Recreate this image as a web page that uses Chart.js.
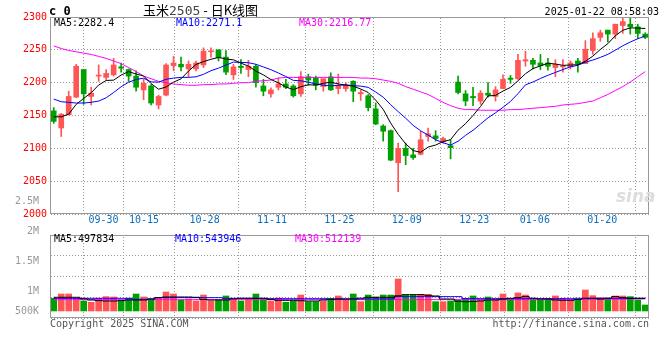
<!DOCTYPE html>
<html>
<head>
<meta charset="utf-8">
<title>玉米2505 - 日K线图</title>
<script src="https://cdn.jsdelivr.net/npm/chart.js@4.4.1/dist/chart.umd.min.js"></script>
<style>
  body { margin: 0; background: #fff; }
  #box { position: relative; width: 660px; height: 360px; overflow: hidden; font: 10px "DejaVu Sans Mono", monospace; }
  #box canvas { position: absolute; left: 0; top: 0; }
  .txt { position: absolute; white-space: nowrap; line-height: 12px; }
</style>
</head>
<body>
<div id="box">
  <canvas id="kline" width="660" height="360"></canvas>
  <canvas id="vol" width="660" height="360"></canvas>
  <div class="txt" style="left:49px;top:5px;font-weight:bold;font-size:12px;">c 0</div>
  <div class="txt" style="left:143px;top:2px;font:13px 'Noto Sans CJK SC',sans-serif;line-height:16px;">玉米<span style="color:#444;font-family:'DejaVu Sans Mono'">2505</span> - 日K线图</div>
  <div class="txt" style="right:1px;top:6px;">2025-01-22 08:58:03</div>
  <div class="txt" style="left:54px;top:17px;">MA5:2282.4</div>
  <div class="txt" style="left:176px;top:17px;color:#0000ff;">MA10:2271.1</div>
  <div class="txt" style="left:299px;top:17px;color:#ff00ff;">MA30:2216.77</div>
  <div class="txt" style="left:54px;top:233px;">MA5:497834</div>
  <div class="txt" style="left:175px;top:233px;color:#0000ff;">MA10:543946</div>
  <div class="txt" style="left:295px;top:233px;color:#ff00ff;">MA30:512139</div>
  <div class="txt" style="left:50px;top:318px;color:#555;">Copyright 2025 SINA.COM</div>
  <div class="txt" style="right:11px;top:318px;color:#555;">http://finance.sina.com.cn</div>
  <div class="txt" style="left:616px;top:186px;font:italic bold 17px 'DejaVu Sans',sans-serif;color:#ddd;">sina</div>
</div>
<script>
const dates = ['09-25','09-26','09-27','09-30',
  '10-08','10-09','10-10','10-11','10-14','10-15','10-16','10-17','10-18','10-21','10-22','10-23','10-24','10-25','10-28','10-29','10-30','10-31',
  '11-01','11-04','11-05','11-06','11-07','11-08','11-11','11-12','11-13','11-14','11-15','11-18','11-19','11-20','11-21','11-22','11-25','11-26','11-27','11-28','11-29',
  '12-02','12-03','12-04','12-05','12-06','12-09','12-10','12-11','12-12','12-13','12-16','12-17','12-18','12-19','12-20','12-23','12-24','12-25','12-26','12-27','12-30','12-31',
  '01-02','01-03','01-06','01-07','01-08','01-09','01-10','01-13','01-14','01-15','01-16','01-17','01-20','01-21','01-22'];

const open = [2157,2131,2151,2178,2220,2179,2210,2208,2212,2224,
  2220,2210,2189,2195,2166,2181,2226,2228,2221,2221,
  2227,2247,2250,2239,2212,2225,2220,2225,2195,2183,
  2193,2198,2195,2183,2209,2207,2194,2209,2191,2191,
  2202,2183,2180,2160,2134,2127,2078,2100,2090,2091,
  2118,2119,2110,2104,2201,2183,2179,2172,2184,2179,
  2191,2207,2206,2233,2234,2230,2230,2223,2224,2224,
  2233,2229,2249,2269,2280,2274,2287,2289,2285,2274];
const high = [2162,2153,2187,2228,2220,2193,2227,2220,2237,2230,
  2221,2218,2205,2197,2181,2229,2240,2239,2233,2233,
  2253,2253,2250,2249,2228,2235,2234,2228,2205,2192,
  2207,2205,2197,2217,2213,2210,2206,2215,2213,2200,
  2203,2189,2182,2169,2136,2128,2108,2108,2100,2126,
  2131,2127,2117,2113,2210,2188,2193,2188,2200,2194,
  2212,2211,2243,2248,2237,2243,2237,2235,2235,2233,
  2237,2264,2276,2280,2280,2289,2298,2298,2289,2276];
const low = [2138,2118,2151,2177,2167,2166,2202,2205,2210,2216,
  2202,2187,2174,2166,2160,2180,2218,2218,2209,2218,
  2223,2239,2233,2212,2205,2214,2209,2193,2180,2178,
  2189,2191,2178,2179,2196,2189,2187,2188,2183,2187,
  2171,2173,2157,2136,2111,2081,2034,2075,2083,2090,
  2111,2111,2108,2084,2183,2165,2165,2167,2178,2172,
  2191,2199,2205,2225,2221,2220,2219,2209,2216,2221,
  2216,2229,2243,2263,2262,2267,2275,2274,2267,2267];
const close = [2141,2152,2179,2225,2183,2184,2211,2214,2227,2222,
  2210,2193,2199,2169,2179,2227,2230,2224,2228,2230,
  2248,2248,2238,2216,2224,2223,2225,2200,2187,2189,
  2198,2193,2180,2209,2204,2196,2206,2189,2195,2196,
  2187,2185,2162,2137,2126,2082,2100,2089,2086,2113,
  2122,2115,2115,2101,2185,2172,2177,2184,2181,2189,
  2205,2205,2234,2235,2228,2226,2225,2228,2225,2230,
  2229,2251,2267,2276,2274,2289,2293,2285,2275,2269];

const ma5 = [2148,2148,2152,2167,2176.0,2184.6,2196.4,2203.4,2203.8,2211.6,
  2216.8,2213.2,2210.2,2198.6,2190.0,2193.4,2200.8,2205.8,2217.6,2227.8,
  2232.0,2235.6,2238.4,2236.0,2234.8,2229.8,2225.2,2217.6,2211.8,2204.8,
  2199.8,2193.4,2189.4,2193.8,2196.8,2196.4,2199.0,2200.8,2198.0,2196.4,
  2194.6,2190.4,2185.0,2173.4,2159.4,2138.4,2121.4,2106.8,2096.6,2094.0,
  2102.0,2105.0,2110.2,2113.2,2127.6,2137.6,2150.0,2163.8,2179.8,2180.6,
  2187.2,2192.8,2202.8,2213.6,2221.4,2225.6,2229.6,2228.4,2226.4,2226.8,
  2227.4,2232.6,2240.4,2250.6,2259.4,2271.4,2279.8,2283.4,2283.2,2282.4];
const ma10 = [2175,2171,2170,2169,2169,2170,2172,2177,2185,2193.8,
  2200.7,2204.8,2206.8,2201.2,2200.8,2205.1,2207.0,2208.0,2208.1,2208.9,
  2212.7,2218.2,2222.1,2226.8,2231.3,2230.9,2230.4,2228.0,2223.9,2219.8,
  2214.8,2209.3,2203.5,2202.8,2200.8,2198.1,2196.2,2195.1,2195.9,2196.6,
  2195.5,2194.7,2192.9,2185.7,2177.9,2166.5,2155.9,2145.9,2135.0,2126.7,
  2120.2,2113.2,2108.5,2104.9,2110.8,2119.8,2127.5,2137.0,2146.5,2154.1,
  2162.4,2171.4,2183.3,2196.7,2201.0,2206.4,2211.2,2215.6,2220.0,2224.1,
  2226.5,2231.1,2234.4,2238.5,2243.1,2249.4,2256.2,2261.9,2266.9,2271.1];
const ma30 = [2256,2252,2249,2247,2245,2243,2240,2237,2233,2229,
  2223,2217,2210,2206,2202,2200,2198,2197,2196,2196,
  2197,2197,2198,2198,2199,2200,2200,2202,2203,2204,
  2207,2208,2208,2208,2208,2208,2208,2208,2208,2208,
  2208,2207,2207,2206,2204,2202,2199,2194,2190,2186,
  2182,2176,2170,2165,2161,2159,2159,2158,2158,2158,
  2158,2159,2159,2160,2161,2162,2163,2164,2166,2167,
  2168,2170,2172,2177,2182,2188,2194,2201,2209,2216.77];

const volume = [878000,950000,950000,878000,833000,811000,878000,906000,900000,833000,
  878000,950000,900000,850000,889000,983000,950000,850000,867000,833000,
  933000,833000,850000,917000,867000,833000,878000,950000,867000,833000,
  883000,811000,833000,933000,822000,822000,833000,878000,917000,850000,
  950000,822000,933000,900000,933000,933000,1200000,933000,933000,944000,
  944000,822000,822000,833000,850000,878000,917000,867000,900000,867000,
  950000,867000,967000,933000,850000,850000,867000,917000,878000,850000,
  850000,1017000,922000,889000,878000,917000,917000,906000,850000,767000];
const vma5 = [895000,895000,895000,895000,870000,850000,840000,833000,833000,840000,
  850000,850000,850000,870000,890000,900000,900000,900000,900000,895000,
  860000,850000,850000,850000,870000,878000,878000,878000,878000,860000,
  844000,844000,844000,838000,833000,833000,850000,860000,867000,867000,
  867000,880000,894000,894000,894000,894000,920000,939000,939000,939000,
  928000,917000,867000,867000,830000,822000,825000,833000,850000,850000,
  865000,878000,890000,906000,880000,867000,867000,850000,844000,844000,
  860000,878000,878000,867000,880000,906000,890000,878000,878000,878000];
const vma10 = [878000,878000,878000,878000,878000,878000,878000,878000,878000,878000,
  878000,861000,861000,861000,889000,889000,889000,889000,889000,889000,
  889000,889000,889000,878000,878000,878000,878000,878000,878000,872000,
  872000,872000,872000,872000,872000,872000,872000,867000,867000,867000,
  867000,867000,867000,867000,867000,867000,906000,906000,906000,906000,
  906000,906000,906000,906000,906000,872000,872000,872000,872000,872000,
  872000,872000,872000,872000,872000,872000,872000,872000,872000,872000,
  878000,878000,878000,878000,878000,878000,878000,878000,878000,878000];
const vma30 = [856000,856000,856000,856000,856000,856000,856000,856000,856000,856000,
  856000,856000,856000,856000,856000,856000,856000,856000,856000,856000,
  856000,856000,856000,856000,856000,856000,856000,856000,856000,856000,
  856000,856000,856000,856000,856000,856000,856000,856000,856000,856000,
  856000,856000,856000,856000,856000,856000,856000,856000,856000,856000,
  856000,856000,856000,856000,856000,856000,856000,856000,856000,856000,
  856000,856000,856000,856000,856000,856000,856000,856000,856000,856000,
  858000,858000,860000,860000,862000,864000,865000,866000,867000,867000];

const tickDates = ['09-30','10-15','10-28','11-11','11-25','12-09','12-23','01-06','01-20'];
const priceMin = 2000, priceMax = 2300, priceStep = 50;
const volMin = 550000, volMax = 1933000, volBase = 667000;
// the picture prints "500K" at the bars' baseline
const volTicks = [volBase, 1000000, 1500000, 2000000, 2500000];
const volTickLabels = ['500K', '1M', '1.5M', '2M', '2.5M'];

const red = '#ff5555', green = '#00a000';
const candleColor = close.map((c, i) => c >= open[i] ? red : green);
const mono = { family: 'DejaVu Sans Mono', size: 10 };

// dotted grid: a 1px-on / 2px-off pattern used as the line colour
function dots(alongX) {
  const p = document.createElement('canvas');
  p.width = alongX ? 3 : 1;
  p.height = alongX ? 1 : 3;
  const g = p.getContext('2d');
  g.fillStyle = '#999999';
  g.fillRect(0, 0, 1, 1);
  return g.createPattern(p, 'repeat');
}
const hGrid = { color: dots(true), lineWidth: 1, drawTicks: false };
const vGrid = { color: dots(false), lineWidth: 1, drawTicks: false };

// grey frame round each panel
const frame = {
  id: 'frame',
  afterDraw(chart) {
    const a = chart.chartArea, c = chart.ctx;
    c.save();
    c.strokeStyle = '#999';
    c.lineWidth = 1;
    c.strokeRect(a.left + 0.5, a.top + 0.5, a.width - 1, a.height - 1);
    c.restore();
  }
};

function dateAxis(showLabels) {
  return {
    type: 'linear', position: 'bottom', min: 0, max: dates.length - 1,
    afterBuildTicks: s => { s.ticks = tickDates.map(d => ({ value: dates.indexOf(d) })); },
    afterFit: s => { s.height = showLabels ? 20 : 0; },
    ticks: { display: showLabels, autoSkip: false, maxRotation: 0, minRotation: 0, padding: 0,
      color: '#0a6ebd', font: mono, callback: v => dates[v] },
    grid: vGrid,
    border: { display: false }
  };
}

function maLine(data, color, axis, stepped) {
  return { type: 'line', data: data, borderColor: color, borderWidth: 1, pointRadius: 0,
    tension: 0, stepped: stepped || false, xAxisID: 'x', yAxisID: axis, order: 0 };
}

new Chart(document.getElementById('kline'), {
  type: 'bar',
  data: {
    labels: dates,
    datasets: [
      maLine(ma5, '#000000', 'y'),
      maLine(ma10, '#0000ff', 'y'),
      maLine(ma30, '#ff00ff', 'y'),
      { data: dates.map((d, i) => [open[i], close[i]]), backgroundColor: candleColor,
        barThickness: 5, minBarLength: 1, grouped: false, xAxisID: 'x', yAxisID: 'y', order: 1 },
      { data: dates.map((d, i) => [low[i], high[i]]), backgroundColor: candleColor,
        barThickness: 1, grouped: false, xAxisID: 'x', yAxisID: 'y', order: 2 }
    ]
  },
  options: {
    responsive: false, animation: false, events: [],
    layout: { padding: { top: 17, right: 11, bottom: 126, left: 0 } },
    plugins: { legend: { display: false }, tooltip: { enabled: false } },
    scales: {
      x: { type: 'category', display: false, offset: true },
      xd: dateAxis(true),
      y: { position: 'left', min: priceMin, max: priceMax,
        afterFit: s => { s.width = 50; },
        ticks: { stepSize: priceStep, color: '#ff0000', font: mono, padding: 3, callback: v => String(v) },
        grid: hGrid,
        border: { display: false } }
    }
  },
  plugins: [frame]
});

new Chart(document.getElementById('vol'), {
  type: 'bar',
  data: {
    labels: dates,
    datasets: [
      maLine(vma5, '#000000', 'yv', 'middle'),
      maLine(vma10, '#0000ff', 'yv', 'middle'),
      maLine(vma30, '#ff00ff', 'yv', 'middle'),
      { data: volume, backgroundColor: candleColor, barThickness: 6, base: volBase,
        grouped: false, xAxisID: 'x', yAxisID: 'yv', order: 1 }
    ]
  },
  options: {
    responsive: false, animation: false, events: [],
    layout: { padding: { top: 235, right: 11, bottom: 42, left: 0 } },
    plugins: { legend: { display: false }, tooltip: { enabled: false } },
    scales: {
      x: { type: 'category', display: false, offset: true },
      xd: dateAxis(false),
      yg: { position: 'left', min: 0, max: 4, afterFit: s => { s.width = 0; },
        ticks: { display: false, stepSize: 1 },
        grid: hGrid,
        border: { display: false } },
      yv: { position: 'left', min: volMin, max: volMax,
        afterFit: s => { s.width = 50; },
        afterBuildTicks: s => { s.ticks = volTicks.map(v => ({ value: v })); },
        ticks: { color: '#999', font: mono, padding: 3, autoSkip: false,
          callback: (v, i) => volTickLabels[i] },
        grid: { display: false },
        border: { display: false } }
    }
  },
  plugins: [frame]
});
</script>
</body>
</html>
